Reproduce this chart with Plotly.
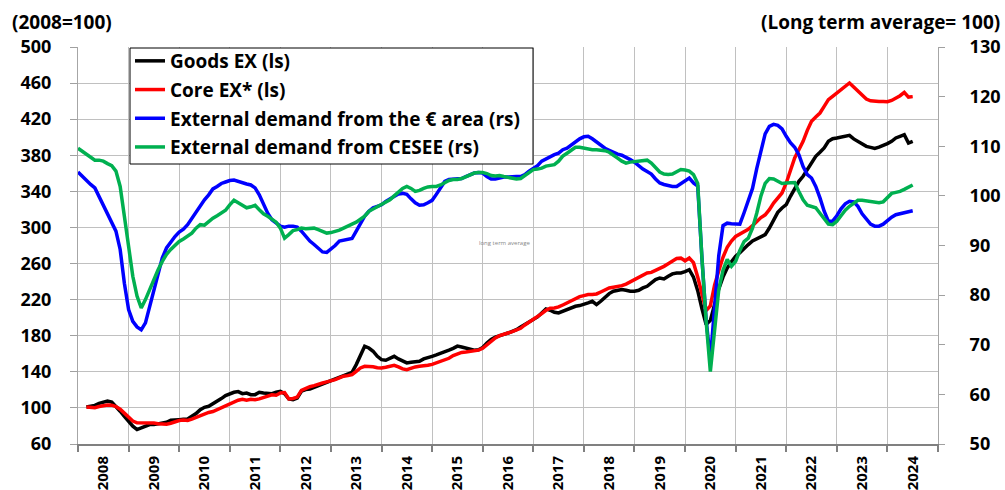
import plotly.graph_objects as go

# ---- data (monthly, index 0 = Jan 2008) ----
goods_ex = [None, None,
    101.0, 102.0, 102.8, 105.0, 106.5, 107.5, 106.5, 101.8, 96.3, 90.7,
    85.2, 79.7, 76.0, 77.8, 80.4, 81.5, 81.5, 82.6, 83.4, 84.1, 86.3, 87.0,
    87.0, 87.4, 87.8, 90.7, 93.7, 98.1, 100.7, 101.8, 104.4, 107.3, 110.3, 113.6,
    115.8, 117.3, 118.1, 115.8, 116.5, 114.7, 114.7, 117.3, 116.5, 115.8, 115.8, 117.3,
    118.4, 115.8, 109.9, 109.2, 111.0, 118.5, 120.3, 121.0, 122.8, 125.0, 126.9, 128.7,
    129.9, 131.4, 133.2, 135.1, 136.9, 139.5, 148.0, 159.1, 168.3, 166.4, 162.8, 157.2,
    153.5, 152.8, 155.4, 157.2, 154.3, 151.7, 149.9, 150.6, 151.3, 151.7, 154.3, 155.4,
    157.2, 158.7, 160.2, 162.0, 164.0, 166.0, 168.5, 167.5, 166.0, 165.0, 164.0, 164.5,
    167.0, 172.0, 176.0, 178.5, 180.5, 181.5, 183.0, 184.5, 186.7, 189.7, 192.3, 194.9,
    197.1, 200.8, 205.2, 209.7, 208.2, 206.0, 205.2, 207.1, 209.7, 211.5, 212.6, 213.4,
    214.5, 216.3, 218.2, 214.5, 218.2, 223.0, 226.7, 229.3, 230.4, 231.2, 230.4, 229.3,
    229.3, 230.4, 233.0, 234.8, 238.5, 242.2, 244.0, 242.9, 245.9, 248.5, 249.6, 249.6,
    251.0, 253.2, 245.0, 230.0, 210.0, 192.3, 197.0, 215.0, 232.0, 245.0, 255.0, 262.0,
    268.0, 272.0, 277.0, 281.0, 285.0, 287.0, 289.0, 292.0, 299.4, 308.7, 316.8, 321.6,
    325.3, 334.5, 343.8, 351.1, 356.7, 364.1, 371.5, 378.8, 383.3, 388.1, 395.5, 398.4,
    399.2, 400.3, 401.0, 402.1, 398.1, 395.5, 392.9, 389.9, 388.8, 387.6, 389.1, 390.6,
    392.9, 395.5, 399.2, 401.0, 402.9, 393.6, 395.5]

core_ex = [None, None,
    101.0, 100.6, 100.3, 101.5, 102.5, 103.2, 103.0, 101.5, 98.5, 94.0,
    89.5, 85.5, 83.5, 83.5, 83.5, 83.8, 83.3, 82.5, 82.0, 82.0, 83.0, 85.0,
    86.0, 86.5, 86.0, 87.5, 89.5, 92.0, 94.0, 95.0, 96.0, 98.0, 100.0, 102.5,
    105.0, 107.0, 108.5, 109.5, 108.5, 109.5, 109.0, 110.0, 111.5, 114.0, 114.5, 114.0,
    116.5, 117.0, 110.0, 110.5, 112.0, 119.5, 122.0, 123.5, 124.7, 126.5, 127.6, 128.8,
    129.9, 131.4, 133.2, 135.1, 135.8, 136.9, 140.6, 144.3, 146.1, 146.1, 145.7, 144.6,
    144.3, 145.0, 146.1, 147.2, 145.4, 143.2, 142.4, 144.3, 145.4, 146.1, 146.5, 147.2,
    148.3, 149.8, 151.0, 152.5, 155.0, 158.0, 160.0, 161.5, 162.0, 162.5, 163.0, 164.0,
    166.0, 170.0, 174.0, 177.5, 180.1, 181.2, 183.0, 184.5, 186.0, 188.2, 191.9, 194.9,
    197.8, 201.5, 204.5, 208.2, 210.4, 210.8, 211.9, 214.1, 216.3, 219.3, 221.5, 223.4,
    224.5, 225.6, 225.6, 226.3, 228.5, 231.1, 232.9, 233.7, 234.4, 235.5, 237.3, 239.6,
    242.2, 244.7, 247.3, 249.5, 250.2, 252.1, 254.3, 256.9, 259.8, 262.4, 265.7, 266.0,
    263.0, 266.0, 261.0, 245.0, 225.0, 208.0, 213.0, 236.0, 252.0, 267.0, 278.0, 285.0,
    290.0, 292.5, 294.5, 298.0, 302.0, 307.0, 311.0, 314.0, 319.7, 327.1, 332.6, 338.2,
    349.3, 364.1, 377.0, 386.2, 395.5, 407.6, 417.6, 422.4, 426.8, 434.2, 441.6, 445.3,
    449.0, 452.7, 457.1, 460.1, 455.6, 450.8, 446.0, 442.3, 440.4, 439.7, 439.7, 439.7,
    439.3, 440.8, 443.4, 446.0, 449.7, 444.5, 445.0]

ext_demand_ea = [
    104.8, 103.9, 103.1, 102.3, 101.6, 99.9, 97.9, 96.2, 94.5, 92.9, 89.2, 82.4,
    77.1, 74.7, 73.6, 73.0, 74.4, 77.7, 81.1, 84.5, 87.5, 89.5, 90.8, 91.8,
    92.7, 93.3, 94.2, 95.5, 96.9, 98.1, 99.2, 100.2, 101.4, 101.9, 102.5, 102.8,
    103.1, 103.2, 102.9, 102.6, 102.4, 102.2, 101.6, 100.2, 98.3, 96.5, 95.2, 94.5,
    93.9, 93.7, 93.9, 93.9, 93.7, 92.9, 91.9, 90.9, 90.2, 89.4, 88.7, 88.6,
    89.2, 90.0, 90.9, 91.1, 91.2, 91.4, 92.9, 94.5, 95.9, 96.9, 97.6, 97.9,
    98.2, 98.9, 99.4, 99.9, 100.4, 100.5, 100.3, 99.4, 98.6, 98.1, 98.2, 98.6,
    99.1, 100.3, 101.6, 102.9, 103.3, 103.4, 103.4, 103.5, 103.9, 104.3, 104.6, 104.7,
    104.6, 103.9, 103.4, 103.4, 103.6, 103.8, 103.8, 103.9, 103.9, 103.9, 104.3, 105.0,
    105.6, 106.1, 107.0, 107.5, 108.0, 108.3, 108.6, 109.3, 109.6, 110.3, 111.0, 111.5,
    111.9, 112.0, 111.5, 110.8, 110.1, 109.6, 109.2, 108.8, 108.4, 108.2, 107.8, 107.3,
    106.8, 106.0, 105.4, 104.9, 104.4, 103.4, 102.6, 102.3, 102.1, 101.9, 101.9, 102.4,
    102.9, 103.6, 102.6, 102.0, 87.5, 75.0, 67.0, 77.5, 88.0, 94.0, 94.5, 94.4,
    94.3, 94.3, 96.6, 99.3, 101.5, 105.5, 109.0, 112.5, 114.0, 114.4, 114.2, 113.5,
    112.0, 110.7, 109.8, 108.3, 105.9, 104.3, 103.6, 101.9, 99.6, 96.9, 94.9, 94.9,
    96.0, 97.4, 98.4, 98.9, 98.8, 97.9, 96.4, 95.2, 94.3, 93.9, 93.9, 94.3,
    95.1, 95.7, 96.2, 96.4, 96.7, 96.9, 97.0]

ext_demand_cesee = [
    109.6, 109.0, 108.3, 107.6, 107.2, 107.2, 107.0, 106.5, 106.1, 105.0, 101.9, 95.9,
    89.9, 83.8, 79.8, 77.4, 79.1, 81.1, 83.5, 85.1, 86.8, 88.2, 89.2, 90.0,
    90.8, 91.3, 91.8, 92.5, 93.5, 94.2, 94.1, 94.9, 95.5, 96.0, 96.5, 97.1,
    98.2, 99.1, 98.6, 98.1, 97.6, 97.8, 98.1, 97.2, 96.4, 95.9, 95.3, 94.7,
    93.5, 91.5, 92.2, 93.0, 93.2, 93.5, 93.4, 93.4, 93.5, 93.2, 92.8, 92.5,
    92.6, 92.8, 93.1, 93.5, 94.0, 94.3, 94.7, 95.2, 95.9, 96.9, 97.4, 97.8,
    98.2, 98.7, 99.2, 100.0, 100.7, 101.5, 101.9, 101.5, 100.9, 101.1, 101.5, 101.8,
    101.9, 101.9, 102.2, 102.6, 103.1, 103.3, 103.3, 103.5, 103.9, 104.3, 104.6, 104.7,
    104.7, 104.5, 104.1, 104.0, 104.1, 103.9, 103.7, 103.5, 103.4, 103.5, 104.1, 104.8,
    105.3, 105.4, 105.6, 106.0, 106.2, 106.3, 107.0, 108.0, 108.6, 109.3, 109.8, 109.8,
    109.6, 109.4, 109.3, 109.3, 109.2, 109.1, 108.8, 108.3, 107.6, 107.0, 106.6, 106.8,
    106.9, 107.0, 107.1, 107.2, 106.6, 105.6, 104.8, 104.4, 104.3, 104.4, 104.8, 105.3,
    105.2, 105.0, 104.3, 102.5, 87.5, 74.7, 64.6, 73.5, 81.1, 85.0, 87.2, 85.8,
    86.8, 89.0, 90.8, 91.5, 93.5, 96.5, 100.0, 102.5, 103.5, 103.4, 102.9, 102.5,
    102.6, 102.6, 102.7, 100.9, 99.2, 98.1, 97.9, 97.6, 96.5, 95.5, 94.3, 94.2,
    94.9, 96.0, 97.1, 97.9, 98.6, 99.1, 99.1, 99.0, 98.8, 98.7, 98.6, 98.8,
    99.6, 100.5, 100.7, 100.9, 101.3, 101.8, 102.2]

years = list(range(2008, 2025))
year_labels = [str(y) for y in years]

n = len(ext_demand_ea)
months = [2008 + i / 12 for i in range(n)]

FONT = "Open Sans"
GRID = "#c0c0c0"

fig = go.Figure()
series = [
    ("Goods EX (ls)", goods_ex, "#000000", "y"),
    ("Core EX* (ls)", core_ex, "#ff0000", "y"),
    ("External demand from the \u20ac area (rs)", ext_demand_ea, "#0000ff", "y2"),
    ("External demand from CESEE (rs)", ext_demand_cesee, "#00b050", "y2"),
]
for i, (name, vals, col, ax) in enumerate(series):
    fig.add_trace(go.Scatter(
        x=months[:len(vals)], y=vals, mode="lines", name="<b>" + name + "</b>",
        line=dict(color=col, width=3.5), yaxis=ax, legendgroup=f"g{i}",
        connectgaps=False,
    ))

# paper coordinates of pixel positions (plot area 78..938 x 47..444)
def px_x(p):
    return (p - 78) / 860.0

def px_y(p):
    return (444 - p) / 397.0

fig.update_layout(
    width=1005, height=490,
    margin=dict(l=78, r=67, t=47, b=46, autoexpand=False),
    paper_bgcolor="white", plot_bgcolor="white",
    font=dict(family=FONT, size=19, color="#000000"),
    showlegend=True,
    legend=dict(
        x=px_x(130), y=px_y(42), xanchor="left", yanchor="top",
        bgcolor="rgba(0,0,0,0)", borderwidth=0,
        font=dict(family=FONT, size=19, color="#000000"),
        itemwidth=30, tracegroupgap=1,
    ),
    shapes=[
        dict(type="rect", xref="paper", yref="paper",
             x0=px_x(130), x1=px_x(533), y0=px_y(164), y1=px_y(48),
             fillcolor="white", line=dict(color="#000000", width=1), layer="above"),
    ],
    xaxis=dict(
        range=[2008, 2025], tickmode="array", automargin=False,
        tickvals=[y + 0.5 for y in years], ticktext=["<b>" + t + "</b>" for t in year_labels],
        tickangle=-90, ticks="", showgrid=False, zeroline=False,
        tickfont=dict(family=FONT, size=15, color="#000000"),
        showline=True, linecolor="#808080", linewidth=2,
        ticklabelstandoff=4,
        minor=dict(tick0=2008, dtick=1, showgrid=True, gridcolor=GRID, gridwidth=1,
                   ticks="outside", ticklen=6, tickcolor="#808080", tickwidth=2),
    ),
    yaxis=dict(
        range=[60, 500], tickmode="linear", tick0=60, dtick=40, automargin=False,
        showgrid=True, gridcolor=GRID, gridwidth=1, zeroline=False,
        ticks="outside", ticklen=7, tickcolor="#a0a0a0",
        showline=True, linecolor="#a6a6a6", linewidth=1,
        tickfont=dict(family=FONT, size=18, color="#000000", weight="bold"),
        ticklabelstandoff=15,
    ),
    yaxis2=dict(
        range=[50, 130], tickmode="linear", tick0=50, dtick=10, automargin=False,
        overlaying="y", side="right", showgrid=False, zeroline=False,
        ticks="outside", ticklen=6, tickcolor="#a0a0a0",
        showline=True, linecolor="#a6a6a6", linewidth=1,
        tickfont=dict(family=FONT, size=18, color="#000000", weight="bold"),
        ticklabelstandoff=21,
    ),
    annotations=[
        dict(text="<b>(2008=100)</b>", xref="paper", yref="paper", x=-0.079, y=1.064,
             xanchor="left", yanchor="middle", showarrow=False,
             font=dict(family=FONT, size=19, color="#000000")),
        dict(text="<b>(Long term average= 100)</b>", xref="paper", yref="paper", x=1.0744, y=1.064,
             xanchor="right", yanchor="middle", showarrow=False,
             font=dict(family=FONT, size=19, color="#000000")),
        dict(text="long term average", xref="paper", yref="paper", x=0.4965, y=0.507,
             xanchor="center", yanchor="middle", showarrow=False,
             font=dict(family=FONT, size=6, color="#888888")),
    ],
)

fig.write_html("out.html", config={"displayModeBar": False},
               post_script="document.body.style.margin='0';document.body.style.padding='0';")
